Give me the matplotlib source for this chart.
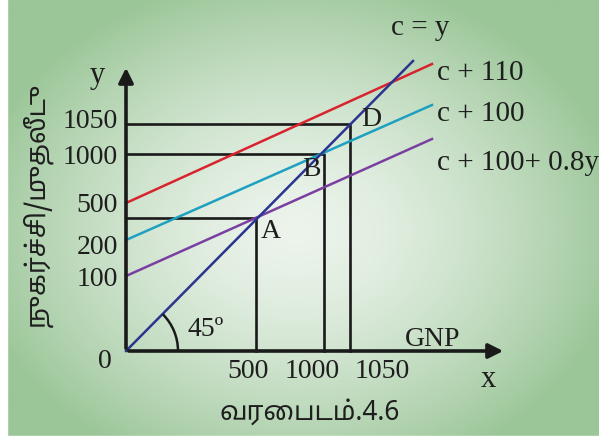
import numpy as np
import matplotlib.pyplot as plt
from matplotlib.patches import Arc

# schematic units (not to scale), origin of the diagram at (0, 0)
x_tick_labels = ['500', '1000', '1050']
x_tick_pos = [122, 186, 256]
y_tick_labels = ['100', '200', '500', '1000', '1050']
y_tick_pos = [72, 104, 147, 194, 230]

# c = y line (45 degrees)
cy_x = [0, 287]
cy_y = [0, 290]

# consumption lines: intercept and value at right end
cons_names = ['c + 110', 'c + 100', 'c + 100+ 0.8y']
cons_start = [148, 111, 75]
cons_end = [287, 246, 212]
cons_xend = 306
cons_colors = ['#d8242e', '#1ea0c0', '#7a3fa0']

# equilibrium points
pt_names = ['A', 'B', 'D']
pt_x = [130, 198, 224]
pt_y = [133, 197, 227]

fig = plt.figure(figsize=(5.99, 4.39), dpi=100)
ax = fig.add_axes([0, 0, 1, 1])
ax.set_xlim(-126, 473)
ax.set_ylim(-87, 352)
ax.axis('off')

# green radial background
gx, gy = np.meshgrid(np.linspace(-126, 473, 300), np.linspace(-87, 352, 220))
r = np.sqrt(((gx - 170) / 330) ** 2 + ((gy - 120) / 260) ** 2)
t = np.clip(r, 0, 1) ** 1.5
c0 = np.array([236, 244, 236]) / 255
c1 = np.array([155, 198, 152]) / 255
img = c0[None, None, :] * (1 - t[..., None]) + c1[None, None, :] * t[..., None]
ax.imshow(img, extent=(-126, 473, -87, 352), origin='lower', aspect='auto', zorder=0)
# white frame strips
ax.axvspan(-126, -119, color='white', zorder=1)
ax.axhspan(-87, -85, color='white', zorder=1)

# guide lines
for px, py in zip(pt_x, pt_y):
    ax.plot([0, px, px], [py, py, 0], color='#1a1a1a', lw=1.9, zorder=2)

# consumption lines
for s, e, col in zip(cons_start, cons_end, cons_colors):
    ax.plot([0, cons_xend], [s, e], color=col, lw=1.8, zorder=3)

ax.plot(cy_x, cy_y, color='#2b3590', lw=1.8, zorder=3)

# axes with arrows
ax.annotate('', xy=(380, 0), xytext=(0, 0),
            arrowprops=dict(arrowstyle='-|>', lw=2.6, color='#1a1a1a', mutation_scale=22), zorder=4)
ax.annotate('', xy=(0, 286), xytext=(0, 0),
            arrowprops=dict(arrowstyle='-|>', lw=2.6, color='#1a1a1a', mutation_scale=22), zorder=4)

ax.add_patch(Arc((0, 0), 104, 104, theta1=0, theta2=45, color='#1a1a1a', lw=1.8, zorder=3))

serif = 'Liberation Serif'
tc = '#1e1e1e'
fs = 20
for lab, yp in zip(y_tick_labels, y_tick_pos):
    ax.text(-8, yp, lab, ha='right', va='center', fontsize=fs, family=serif, color=tc)
for lab, xp in zip(x_tick_labels, x_tick_pos):
    ax.text(xp, -20, lab, ha='center', va='center', fontsize=fs, family=serif, color=tc)
ax.text(-21, -10, '0', ha='center', va='center', fontsize=fs, family=serif, color=tc)

ax.text(-29, 277, 'y', ha='center', va='center', fontsize=22, family=serif, color=tc)
ax.text(362, -28, 'x', ha='center', va='center', fontsize=22, family=serif, color=tc)
ax.text(307, 12, 'GNP', ha='center', va='center', fontsize=fs, family=serif, color=tc)
ax.text(80, 22, '45º', ha='center', va='center', fontsize=fs, family=serif, color=tc)

ax.text(294, 324, 'c = y', ha='center', va='center', fontsize=21, family=serif, color=tc)
for name, e in zip(cons_names, [279, 238, 189]):
    ax.text(311, e, name, ha='left', va='center', fontsize=21, family=serif, color=tc)

lab_off = [(15, -12), (-13, -15), (21, 5)]
for name, px, py, (ox, oy) in zip(pt_names, pt_x, pt_y, lab_off):
    ax.text(px + ox, py + oy, name, ha='center', va='center', fontsize=fs, family=serif, color=tc)

tamil = ['Noto Sans Tamil', 'Lohit Tamil', 'Noto Sans', 'DejaVu Sans']
ax.text(-88, 147, 'நுகர்ச்சி/முதலீடு', rotation=90, ha='center', va='center', fontsize=19,
        fontweight='bold', family=tamil, color=tc)
ax.text(184, -61, 'வரைபடம்.4.6', ha='center', va='center', fontsize=19,
        family=tamil, color=tc)

fig.savefig('out.png', dpi=100)
